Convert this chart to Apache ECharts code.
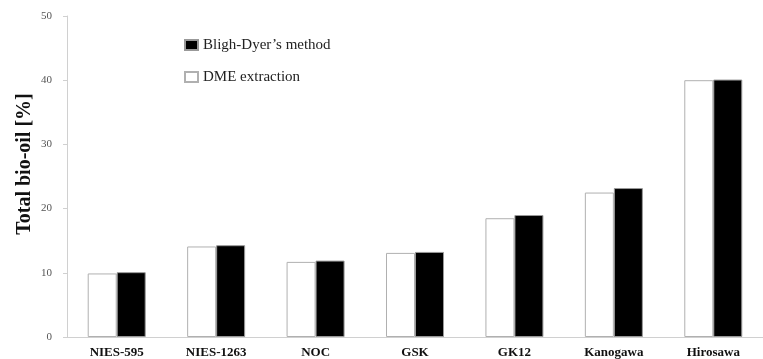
<!DOCTYPE html>
<html>
<head>
<meta charset="utf-8">
<script src="https://cdn.jsdelivr.net/npm/echarts@6/dist/echarts.min.js"></script>
<style>html,body{margin:0;padding:0;background:#fff;}#c{width:763px;height:359px;}</style>
</head>
<body>
<div id="c"></div>
<script>
const categories = ['NIES-595', 'NIES-1263', 'NOC', 'GSK', 'GK12', 'Kanogawa', 'Hirosawa'];
const dmeValues = [9.9, 14.1, 11.7, 13.1, 18.5, 22.5, 40.0];
const blighDyerValues = [10.1, 14.3, 11.9, 13.25, 19.0, 23.2, 40.1];
const yTicks = [0, 10, 20, 30, 40, 50];

const serif = '"Liberation Serif", "DejaVu Serif", serif';
const chart = echarts.init(document.getElementById('c'), null, {renderer: 'canvas'});
chart.setOption({
  animation: false,
  backgroundColor: '#fff',
  grid: {left: 67, top: 16, width: 703, height: 321.5, containLabel: false},
  legend: {
    orient: 'vertical', left: 184, top: 37, padding: 0,
    icon: 'rect',
    itemWidth: 13, itemHeight: 10, itemGap: 16,
    data: ['Bligh-Dyer’s method', 'DME extraction'],
    textStyle: {fontFamily: serif, fontSize: 15, color: '#222', lineHeight: 16, padding: [0, 0, 0, 0]}
  },
  xAxis: {
    type: 'category', data: categories,
    axisLine: {lineStyle: {color: '#d0d0d0', width: 1}},
    axisTick: {show: false},
    axisLabel: {fontFamily: serif, fontWeight: 'bold', fontSize: 13, color: '#111', margin: 9}
  },
  yAxis: {
    type: 'value', min: yTicks[0], max: yTicks[yTicks.length - 1], interval: 10,
    name: 'Total bio-oil [%]', nameLocation: 'middle', nameGap: 32, nameRotate: 90,
    nameMoveOverlap: false,
    nameTextStyle: {fontFamily: serif, fontWeight: 'bold', fontSize: 20, color: '#111', padding: [0, 0, 0, 25]},
    axisLine: {show: true, lineStyle: {color: '#d0d0d0', width: 1}},
    axisTick: {show: true, length: 4, lineStyle: {color: '#d0d0d0'}},
    splitLine: {show: false},
    axisLabel: {fontFamily: serif, fontSize: 11, color: '#555', margin: 15}
  },
  series: [
    {name: 'DME extraction', type: 'bar', data: dmeValues, barWidth: 29, barGap: '0%',
     itemStyle: {color: '#fff', borderColor: '#b0b0b0', borderWidth: 1}},
    {name: 'Bligh-Dyer’s method', type: 'bar', data: blighDyerValues, barWidth: 29, barGap: '0%',
     itemStyle: {color: '#000', borderColor: '#999', borderWidth: 1}}
  ]
});
</script>
</body>
</html>
